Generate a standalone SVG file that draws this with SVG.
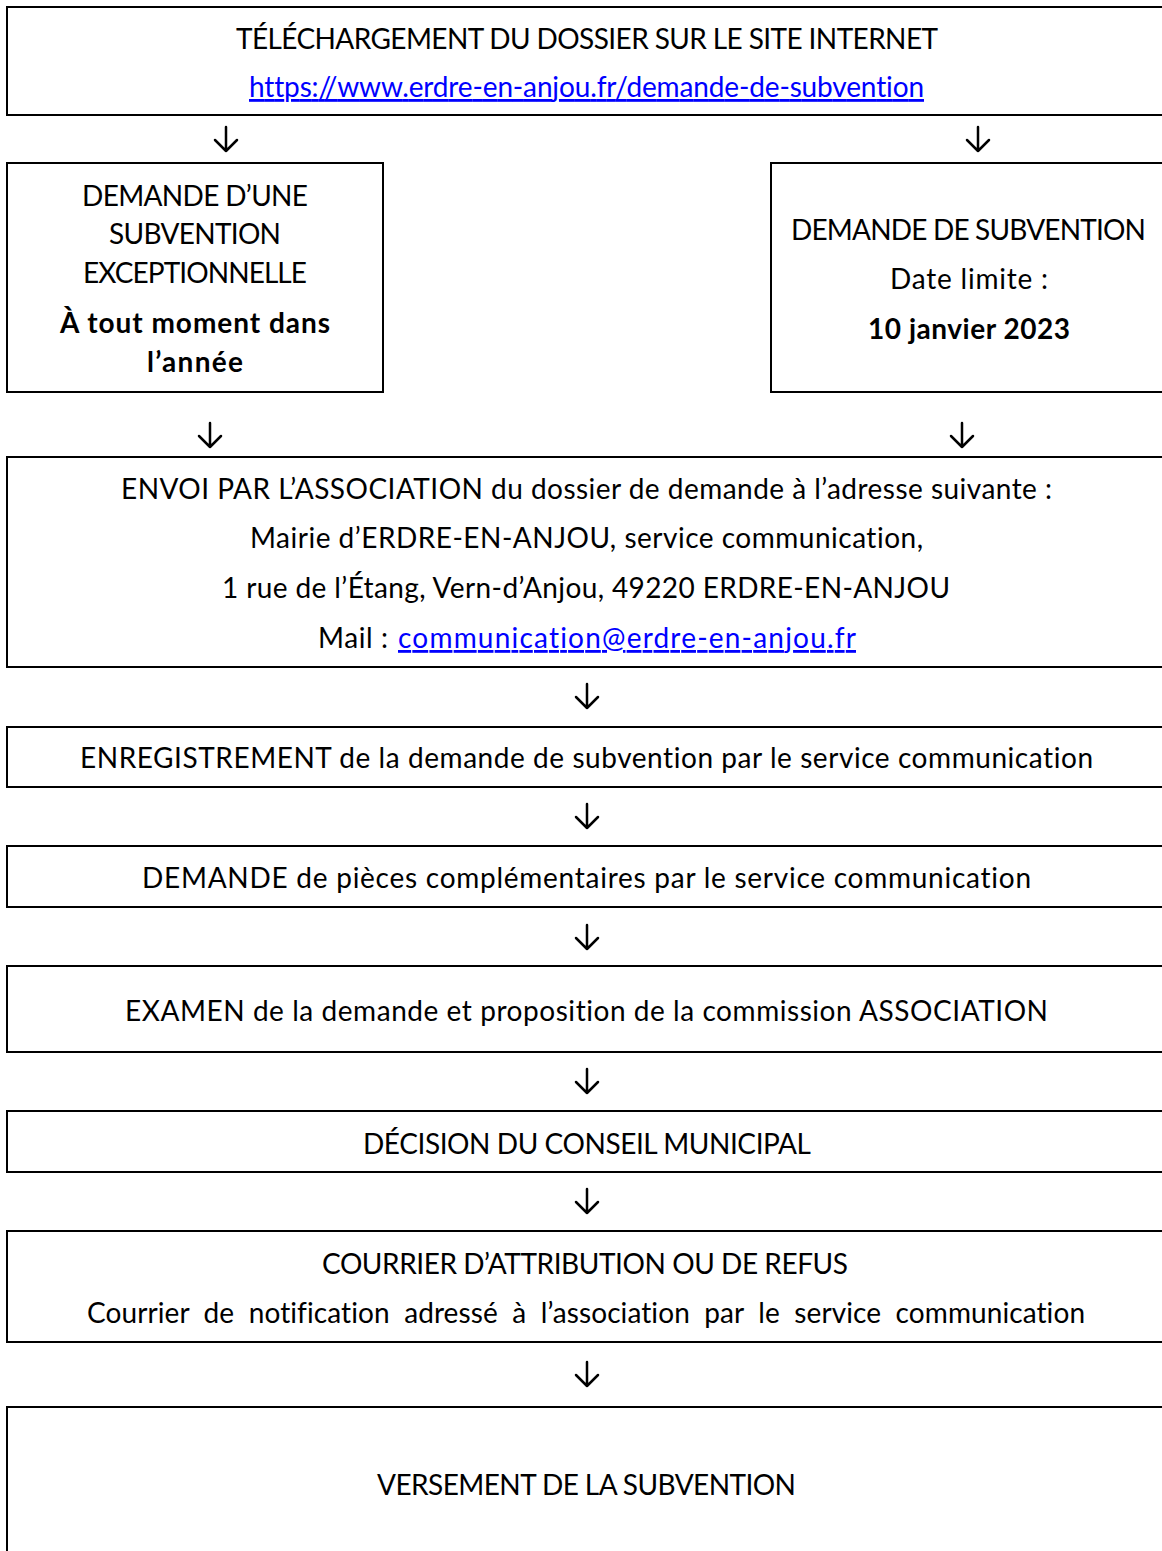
<svg xmlns="http://www.w3.org/2000/svg" width="1162" height="1551" viewBox="0 0 1162 1551">
<style>
.box{fill:#fff;stroke:#000;stroke-width:2}
.t{font-family:Lato,"Open Sans","Liberation Sans",sans-serif;font-size:28px;fill:#000;font-variant-ligatures:none;font-feature-settings:"liga" 0,"dlig" 0}
.b{font-weight:bold}
.lnk{fill:#0000ff;text-decoration:underline}
.arr{fill:none;stroke:#000;stroke-width:2.5;stroke-linecap:round;stroke-linejoin:round}
</style>
<rect width="1162" height="1551" fill="#fff"/>
<g id="n1">
<rect class="box" x="7" y="7" width="1170" height="108"/>
<text class="t" x="236" y="49" textLength="702">TÉLÉCHARGEMENT DU DOSSIER SUR LE SITE INTERNET</text>
<text class="t lnk" x="249" y="97" textLength="675">https://www.erdre-en-anjou.fr/demande-de-subvention</text>
</g>
<g id="n2">
<rect class="box" x="7" y="163" width="376" height="229"/>
<text class="t" x="82" y="206" textLength="226">DEMANDE D’UNE</text>
<text class="t" x="109" y="244" textLength="172">SUBVENTION</text>
<text class="t" x="83" y="283" textLength="224">EXCEPTIONNELLE</text>
<text class="t b" x="60" y="333" textLength="270">À tout moment dans</text>
<text class="t b" x="147" y="372" textLength="96">l’année</text>
</g>
<g id="n3">
<rect class="box" x="771" y="163" width="400" height="229"/>
<text class="t" x="791" y="240" textLength="355">DEMANDE DE SUBVENTION</text>
<text class="t" x="890" y="289" textLength="158">Date limite :</text>
<text class="t b" x="868" y="339" textLength="202">10 janvier 2023</text>
</g>
<g id="n4">
<rect class="box" x="7" y="457" width="1170" height="210"/>
<text class="t" x="121" y="499" textLength="931">ENVOI PAR L’ASSOCIATION du dossier de demande à l’adresse suivante :</text>
<text class="t" x="250" y="548" textLength="673">Mairie d’ERDRE-EN-ANJOU, service communication,</text>
<text class="t" x="222" y="598" textLength="728">1 rue de l’Étang, Vern-d’Anjou, 49220 ERDRE-EN-ANJOU</text>
<text class="t" x="318" y="648" textLength="70">Mail :</text>
<text class="t lnk" x="398" y="648" textLength="458">communication@erdre-en-anjou.fr</text>
</g>
<g id="n5">
<rect class="box" x="7" y="727" width="1170" height="60"/>
<text class="t" x="80" y="768" textLength="1013">ENREGISTREMENT de la demande de subvention par le service communication</text>
</g>
<g id="n6">
<rect class="box" x="7" y="846" width="1170" height="61"/>
<text class="t" x="142" y="888" textLength="889">DEMANDE de pièces complémentaires par le service communication</text>
</g>
<g id="n7">
<rect class="box" x="7" y="966" width="1170" height="86"/>
<text class="t" x="125" y="1021" textLength="923">EXAMEN de la demande et proposition de la commission ASSOCIATION</text>
</g>
<g id="n8">
<rect class="box" x="7" y="1111" width="1170" height="61"/>
<text class="t" x="363" y="1154" textLength="448">DÉCISION DU CONSEIL MUNICIPAL</text>
</g>
<g id="n9">
<rect class="box" x="7" y="1231" width="1170" height="111"/>
<text class="t" x="322" y="1274" textLength="526">COURRIER D’ATTRIBUTION OU DE REFUS</text>
<text class="t" x="87" y="1323" textLength="998" xml:space="preserve">Courrier  de  notification  adressé  à  l’association  par  le  service  communication</text>
</g>
<g id="n10">
<rect class="box" x="7" y="1407" width="1170" height="200"/>
<text class="t" x="377" y="1495" textLength="419">VERSEMENT DE LA SUBVENTION</text>
</g>
<g id="connectors">
<path class="arr" d="M226 127V151M215 140L226 151L237 140"/>
<path class="arr" d="M978 127V151M967 140L978 151L989 140"/>
<path class="arr" d="M210 423V447M199 436L210 447L221 436"/>
<path class="arr" d="M962 423V447M951 436L962 447L973 436"/>
<path class="arr" d="M587 684V708M576 697L587 708L598 697"/>
<path class="arr" d="M587 804V828M576 817L587 828L598 817"/>
<path class="arr" d="M587 925V949M576 938L587 949L598 938"/>
<path class="arr" d="M587 1069V1093M576 1082L587 1093L598 1082"/>
<path class="arr" d="M587 1189V1213M576 1202L587 1213L598 1202"/>
<path class="arr" d="M587 1362V1386M576 1375L587 1386L598 1375"/>
</g>
</svg>
